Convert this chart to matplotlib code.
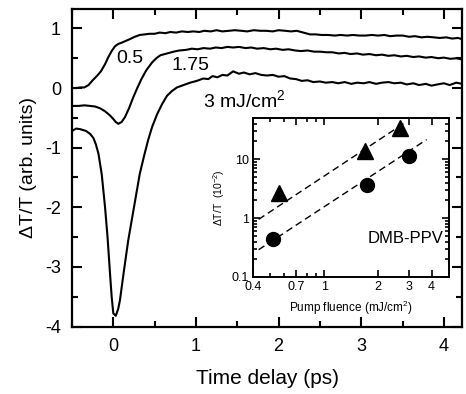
import matplotlib
matplotlib.use('Agg')
import matplotlib.pyplot as plt
from matplotlib.ticker import FixedLocator, NullFormatter, MultipleLocator

plt.rcParams['font.family'] = ['Liberation Sans', 'DejaVu Sans']
plt.rcParams['mathtext.fontset'] = 'custom'
plt.rcParams['mathtext.rm'] = 'Liberation Sans'
plt.rcParams['axes.unicode_minus'] = False

# transient traces (time in ps, dT/T arb. units), offset as in the figure
t_05 = [-0.5, -0.45, -0.4, -0.35, -0.3, -0.25, -0.2, -0.15, -0.1, -0.06, -0.02, 0.02, 0.06, 0.1,
        0.15, 0.2, 0.26, 0.32, 0.38, 0.44, 0.5, 0.56, 0.63, 0.69, 0.76, 0.83, 0.9, 0.97, 1.04, 1.1,
        1.18, 1.25, 1.32, 1.4, 1.47, 1.55, 1.62, 1.7, 1.78, 1.85, 1.93, 2.0, 2.08, 2.15, 2.22, 2.3,
        2.38, 2.45, 2.52, 2.6, 2.68, 2.75, 2.83, 2.9, 2.98, 3.05, 3.13, 3.2, 3.28, 3.35, 3.43, 3.5,
        3.58, 3.65, 3.73, 3.8, 3.88, 3.95, 4.03, 4.1, 4.17, 4.22]
y_05 = [0.0, 0.0, 0.01, 0.01, 0.05, 0.13, 0.2, 0.28, 0.4, 0.52, 0.62, 0.7, 0.74, 0.76,
        0.79, 0.82, 0.86, 0.89, 0.9, 0.91, 0.91, 0.93, 0.92, 0.94, 0.93, 0.95, 0.94, 0.95, 0.94, 0.96,
        0.95, 0.97, 0.95, 0.96, 0.97, 0.96, 0.95, 0.97, 0.96, 0.96, 0.95, 0.97, 0.96, 0.95, 0.96, 0.93,
        0.9, 0.9, 0.89, 0.89, 0.88, 0.89, 0.88, 0.89, 0.88, 0.88, 0.89, 0.88, 0.89, 0.87, 0.88, 0.88,
        0.86, 0.87, 0.85, 0.86, 0.85, 0.84, 0.85, 0.83, 0.84, 0.82]

t_175 = [-0.5, -0.42, -0.35, -0.28, -0.22, -0.16, -0.1, -0.04, 0.0, 0.03, 0.06, 0.1, 0.14, 0.19,
         0.24, 0.29, 0.34, 0.4, 0.47, 0.52, 0.57, 0.65, 0.73, 0.8, 0.88, 0.95, 1.02, 1.09, 1.17, 1.24,
         1.31, 1.38, 1.45, 1.52, 1.6, 1.67, 1.74, 1.82, 1.9, 1.97, 2.05, 2.12, 2.2, 2.27, 2.35, 2.43,
         2.5, 2.58, 2.65, 2.73, 2.8, 2.87, 2.95, 3.02, 3.1, 3.18, 3.25, 3.33, 3.4, 3.48, 3.55, 3.63,
         3.7, 3.78, 3.85, 3.93, 4.0, 4.08, 4.15, 4.22]
y_175 = [-0.3, -0.3, -0.29, -0.3, -0.31, -0.34, -0.39, -0.46, -0.52, -0.57, -0.6, -0.57, -0.49, -0.34,
         -0.16, 0.0, 0.15, 0.3, 0.43, 0.5, 0.55, 0.58, 0.61, 0.63, 0.64, 0.66, 0.65, 0.67, 0.66, 0.68,
         0.67, 0.69, 0.68, 0.69, 0.67, 0.68, 0.66, 0.67, 0.65, 0.66, 0.64, 0.65, 0.63, 0.62, 0.63, 0.61,
         0.61, 0.6, 0.6, 0.58, 0.59, 0.57, 0.58, 0.56, 0.57, 0.55, 0.56, 0.54, 0.55, 0.53, 0.54, 0.52,
         0.53, 0.51, 0.52, 0.5, 0.51, 0.49, 0.5, 0.48]

t_3 = [-0.5, -0.45, -0.4, -0.33, -0.28, -0.24, -0.21, -0.18, -0.14, -0.1, -0.07, -0.04, -0.02, 0.0,
       0.03, 0.06, 0.08, 0.13, 0.18, 0.25, 0.32, 0.37, 0.42, 0.47, 0.53, 0.59, 0.65, 0.71, 0.77, 0.85,
       0.93, 1.01, 1.09, 1.15, 1.2, 1.26, 1.32, 1.38, 1.45, 1.52, 1.58, 1.65, 1.72, 1.79, 1.86, 1.93,
       2.0, 2.07, 2.14, 2.21, 2.28, 2.35, 2.42, 2.5, 2.57, 2.65, 2.72, 2.8, 2.88, 2.95, 3.03, 3.1,
       3.18, 3.25, 3.33, 3.4, 3.48, 3.55, 3.63, 3.7, 3.78, 3.85, 3.92, 4.0, 4.07, 4.15, 4.22]
y_3 = [-0.72, -0.68, -0.69, -0.72, -0.77, -0.84, -0.95, -1.1, -1.45, -2.0, -2.5, -3.11, -3.5, -3.78,
       -3.82, -3.7, -3.56, -3.05, -2.56, -2.0, -1.44, -1.15, -0.88, -0.65, -0.44, -0.27, -0.13, -0.05, 0.01, 0.05,
       0.09, 0.12, 0.16, 0.15, 0.2, 0.18, 0.22, 0.21, 0.28, 0.24, 0.26, 0.23, 0.25, 0.22, 0.21, 0.22,
       0.19, 0.2, 0.16, 0.15, 0.12, 0.13, 0.1, 0.11, 0.09, 0.1, 0.08, 0.1, 0.07, 0.09, 0.08, 0.1,
       0.07, 0.09, 0.1, 0.08, 0.09, 0.06, 0.08, 0.05, 0.07, 0.04, 0.06, 0.08, 0.05, 0.09, 0.07]

# inset: peak dT/T vs pump fluence
fluence_circ = [0.52, 1.73, 3.0]
dtt_circ = [0.44, 3.7, 11.2]
fluence_tri = [0.56, 1.69, 2.65]
dtt_tri = [2.7, 13.5, 34]
# dashed guide lines (end points)
fit_hi_x = [0.43, 2.85]
fit_hi_y = [0.95, 42]
fit_lo_x = [0.43, 3.75]
fit_lo_y = [0.29, 21.5]

fig = plt.figure(figsize=(4.66, 3.94), dpi=100)
ax = fig.add_axes([0.1545, 0.1713, 0.837, 0.805])

for t, y in [(t_05, y_05), (t_175, y_175), (t_3, y_3)]:
    ax.plot(t, y, color='black', lw=1.5)

ax.set_xlim(-0.5, 4.22)
ax.set_ylim(-4.0, 1.32)
ax.xaxis.set_major_locator(MultipleLocator(1))
ax.xaxis.set_minor_locator(MultipleLocator(0.5))
ax.yaxis.set_major_locator(MultipleLocator(1))
ax.yaxis.set_minor_locator(MultipleLocator(0.5))
ax.tick_params(which='both', direction='in', top=True, right=True, width=1.5, labelsize=13)
ax.tick_params(which='major', length=7, pad=8)
ax.tick_params(which='minor', length=4)
for s in ax.spines.values():
    s.set_linewidth(1.6)
ax.set_xlabel('Time delay (ps)', fontsize=15, labelpad=10)
ax.set_ylabel('\u0394T/T (arb. units)', fontsize=14, labelpad=6)

ax.text(0.2, 0.49, '0.5', fontsize=14, ha='center', va='center')
ax.text(0.94, 0.37, '1.75', fontsize=14, ha='center', va='center')
ax.text(1.09, -0.21, '3 mJ/cm$^2$', fontsize=14, ha='left', va='center')

# inset
ins = fig.add_axes([0.5429, 0.2970, 0.4206, 0.4036])
ins.set_xscale('log')
ins.set_yscale('log')
ins.plot(fit_hi_x, fit_hi_y, color='black', ls=(0, (5, 3)), lw=1.0)
ins.plot(fit_lo_x, fit_lo_y, color='black', ls=(0, (5, 3)), lw=1.0)
ins.plot(fluence_circ, dtt_circ, 'o', color='black', ms=10)
ins.plot(fluence_tri, dtt_tri, '^', color='black', ms=11)
ins.set_xlim(0.4, 5.0)
ins.set_ylim(0.1, 50)
ins.xaxis.set_major_locator(FixedLocator([0.4, 0.7, 1, 2, 3, 4]))
ins.xaxis.set_minor_locator(FixedLocator([0.5, 0.6, 0.8, 0.9]))
ins.xaxis.set_major_formatter(plt.FixedFormatter(['0.4', '0.7', '1', '2', '3', '4']))
ins.xaxis.set_minor_formatter(NullFormatter())
ins.yaxis.set_major_locator(FixedLocator([0.1, 1, 10]))
ins.yaxis.set_major_formatter(plt.FixedFormatter(['0.1', '1', '10']))
ins.yaxis.set_minor_formatter(NullFormatter())
ins.tick_params(which='both', direction='in', top=True, right=True, width=1.2, labelsize=9, pad=3)
ins.tick_params(which='major', length=5)
ins.tick_params(which='minor', length=3)
for s in ins.spines.values():
    s.set_linewidth(1.4)
ins.set_xlabel('Pump fluence (mJ/cm$^2$)', fontsize=8.5, labelpad=4)
ins.set_ylabel('\u0394T/T  (10$^{-2}$)', fontsize=7.5, labelpad=3)
ins.text(0.78, 0.24, 'DMB-PPV', fontsize=12, ha='center', va='center', transform=ins.transAxes)

fig.savefig('out.png', dpi=100)
